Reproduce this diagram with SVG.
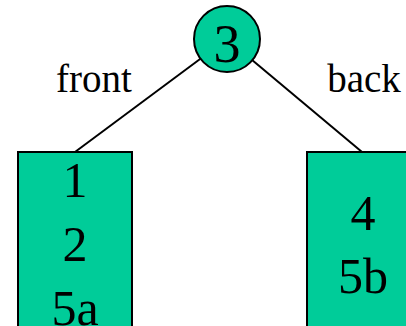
<svg xmlns="http://www.w3.org/2000/svg" width="406" height="326" viewBox="0 0 406 326">
<style>
.n{fill:#00cc99;stroke:#000;stroke-width:2}
.t{font-family:"Liberation Serif",serif;fill:#000;text-anchor:middle}
.e{stroke:#000;stroke-width:2;fill:none}
</style>
<rect width="406" height="326" fill="#fff"/>
<g id="connectors">
<line class="e" x1="227" y1="39" x2="75" y2="152"/>
<line class="e" x1="227" y1="39" x2="362" y2="152"/>
<text class="t" x="94" y="92" font-size="39">front</text>
<text class="t" x="364" y="92" font-size="39">back</text>
</g>
<g id="root">
<circle class="n" cx="227" cy="39" r="33"/>
<text class="t" x="227" y="62" font-size="54">3</text>
</g>
<g id="front-leaf">
<rect class="n" x="18" y="152" width="114" height="190"/>
<text class="t" x="75" y="197" font-size="50">1</text>
<text class="t" x="75" y="261" font-size="50">2</text>
<text class="t" x="75" y="325" font-size="50">5a</text>
</g>
<g id="back-leaf">
<rect class="n" x="307" y="152" width="120" height="190"/>
<text class="t" x="363" y="230" font-size="50">4</text>
<text class="t" x="363" y="293" font-size="50">5b</text>
</g>
</svg>
